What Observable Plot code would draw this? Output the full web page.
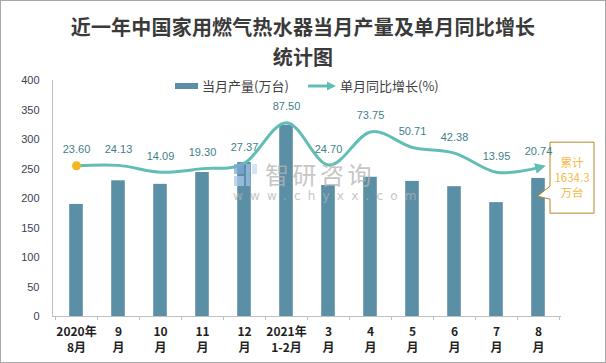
<!DOCTYPE html>
<html><head><meta charset="utf-8">
<script src="https://cdn.jsdelivr.net/npm/d3@7"></script>
<script src="https://cdn.jsdelivr.net/npm/@observablehq/plot@0.6"></script>
<style>
body{margin:0;background:#fff;}
#wrap{position:relative;width:606px;height:363px;overflow:hidden;background:#fff;font-family:"Noto Sans CJK SC","Noto Sans",sans-serif;}
#title{position:absolute;left:0;top:12px;width:606px;text-align:center;font-size:20px;font-weight:700;line-height:30px;color:#3a3a3a;letter-spacing:0.2px;}
#chart{position:absolute;left:0;top:70px;}
#legend{position:absolute;left:0;top:76px;width:606px;height:20px;font-size:13px;color:#404040;}
.lg{position:absolute;top:0;line-height:20px;white-space:nowrap;}
#wm{position:absolute;left:233px;top:160px;color:#b4b4b4;opacity:0.75;pointer-events:none;}
#border{position:absolute;left:0;top:0;width:606px;height:363px;box-sizing:border-box;border:1px solid #a8a8a8;pointer-events:none;}
</style></head>
<body>
<div id="wrap">
  <div id="title">近一年中国家用燃气热水器当月产量及单月同比增长<br>统计图</div>
  <div id="chart"></div>
  <div id="legend"></div>
  <div id="wm"></div>
  <div id="border"></div>
</div>
<script>
// ---- data ----
const months = ["2020年\n8月","9\n月","10\n月","11\n月","12\n月","2021年\n1-2月","3\n月","4\n月","5\n月","6\n月","7\n月","8\n月"];
const output = [190,230,224,244,261,324,222,236,229,220,193,234];       // 当月产量(万台)
const growth = [23.60,24.13,14.09,19.30,27.37,87.50,24.70,73.75,50.71,42.38,13.95,20.74]; // 单月同比增长(%)
const yTicks = [0,50,100,150,200,250,300,350,400];
const growthDomain = [-200,150]; // secondary (hidden) axis
const legendLabels = ["当月产量(万台)","单月同比增长(%)"];
const noteLines = ["累计","1634.3","万台"];

// ---- colours ----
const barColor = "#5b8fa6";
const lineColor = "#62beb4";
const labelColor = "#3f8089";
const dotColor = "#f5b522";

const data = months.map((m,i)=>({m, v: output[i], g: growth[i]}));
const toY = g => (g - growthDomain[0]) * 400 / (growthDomain[1] - growthDomain[0]);

const W = 606, H = 293, mL = 52, mR = 45, mT = 10, mB = 47;

const chart = Plot.plot({
  width: W, height: H,
  marginLeft: mL, marginRight: mR, marginTop: mT, marginBottom: mB,
  style: {fontFamily: '"Noto Sans CJK SC","Noto Sans",sans-serif', background: "transparent"},
  x: {domain: months, padding: 0, label: null},
  y: {domain: [0,400], label: null},
  marks: [
    Plot.barY(data, {x: "m", y: "v", fill: barColor, insetLeft: 14.2, insetRight: 14.2}),
    Plot.ruleY([0], {stroke: "#bfbfbf", strokeWidth: 1}),
    Plot.axisY({ticks: yTicks, tickSize: 0, tickPadding: 13, fontSize: 11, fill: "#3d3d55", fontFamily: '"Liberation Sans",Arial,sans-serif', label: null}),
    Plot.axisX({tickSize: 0, tickPadding: 8.5, fontSize: 12, fontWeight: "bold", fill: "#1f1f1f", lineHeight: 1.33, label: null}),
    Plot.line(data, {x: "m", y: d => toY(d.g), stroke: lineColor, strokeWidth: 3, curve: "cardinal"}),
    Plot.dot(data.slice(0,1), {x: "m", y: d => toY(d.g), r: 4.5, fill: dotColor, stroke: null}),
    Plot.text(data, {x: "m", y: d => toY(d.g), text: d => d.g.toFixed(2), dy: -16, fill: labelColor, fontSize: 11, fontFamily: '"Liberation Sans",Arial,sans-serif'})
  ]
});
document.getElementById("chart").appendChild(chart);

// ---- decorations using the library's scales ----
const xs = chart.scale("x"), ys = chart.scale("y");
const bw = xs.bandwidth;
const svg = d3.select(chart);
const y0 = ys.apply(0), yTop = ys.apply(400);
// y axis line
svg.append("line").attr("x1", mL+0.5).attr("x2", mL+0.5).attr("y1", yTop).attr("y2", y0).attr("stroke","#bfbfbf");
// category boundary ticks
const bounds = months.map(m => xs.apply(m)).concat([xs.apply(months[months.length-1]) + bw]);
svg.append("g").selectAll("line").data(bounds).join("line")
  .attr("x1", d => Math.round(d)+0.5).attr("x2", d => Math.round(d)+0.5)
  .attr("y1", y0).attr("y2", y0+4).attr("stroke","#bfbfbf");
// arrow head at the end of the line
const defs = svg.append("defs");
defs.append("marker").attr("id","arr").attr("viewBox","0 -5 10 10").attr("refX",3).attr("refY",0)
  .attr("markerWidth",3.6).attr("markerHeight",3.6).attr("orient","auto")
  .append("path").attr("d","M0,-5L10,0L0,5Z").attr("fill", lineColor);
svg.selectAll("path").filter(function(){ return this.getAttribute("stroke") === lineColor || (this.parentNode && this.parentNode.getAttribute && this.parentNode.getAttribute("stroke") === lineColor); })
  .attr("marker-end","url(#arr)");

// callout box
const last = data[data.length-1];
const cx = xs.apply(last.m) + bw/2;
const py = ys.apply(toY(last.g));
const bl = cx + 12, br = cx + 56, bt = py - 25, bb = py + 46;
const tipX = cx - 0.5, tipY = py + 29;
svg.append("path")
  .attr("d", `M${bl},${bt}H${br}V${bb}H${bl}V${tipY+3}L${tipX},${tipY}L${bl},${tipY-10}Z`)
  .attr("fill","#fff").attr("stroke","#b8862b").attr("stroke-width",1);
svg.append("g").selectAll("text").data(noteLines).join("text")
  .attr("x", (bl+br)/2).attr("y",(d,i)=> bt + 22 + i*15).attr("text-anchor","middle").attr("dominant-baseline","middle")
  .attr("fill","#f5b946").attr("font-size",11.5).attr("font-family",'"Noto Sans CJK SC",sans-serif').text(d=>d);
// data labels drawn above the callout box
svg.selectAll('g[aria-label="text"]').raise();

// ---- legend ----
const lg = document.getElementById("legend");
lg.innerHTML = `
  <div class="lg" style="left:175px;top:7px;width:23px;height:6px;background:${barColor}"></div>
  <div class="lg" style="left:202px;">${legendLabels[0]}</div>
  <svg class="lg" style="left:306px;top:4px" width="32" height="12"><line x1="2" y1="6" x2="23" y2="6" stroke="${lineColor}" stroke-width="3"/><path d="M21,1.5L30,6L21,10.5Z" fill="${lineColor}"/></svg>
  <div class="lg" style="left:340px;">${legendLabels[1]}</div>`;

// ---- watermark ----
document.getElementById("wm").innerHTML = `
  <svg width="26" height="26" style="position:absolute;left:0;top:2px"><rect x="1" y="2" width="10" height="10" fill="#7fa6d6"/><rect x="13" y="2" width="4" height="22" fill="#9fc0e6"/><rect x="1" y="14" width="10" height="10" fill="#a9c8ea"/><rect x="19" y="2" width="5" height="10" fill="#c6dbf2"/></svg>
  <div style="position:absolute;left:32px;top:2px;font-size:24px;line-height:24px;letter-spacing:3.5px;white-space:nowrap;">智研咨询</div>
  <div style="position:absolute;left:0px;top:30px;font-size:12px;line-height:13px;letter-spacing:7.2px;white-space:nowrap;font-family:'DejaVu Sans',sans-serif;">www.chyxx.com</div>`;
</script>
</body></html>
